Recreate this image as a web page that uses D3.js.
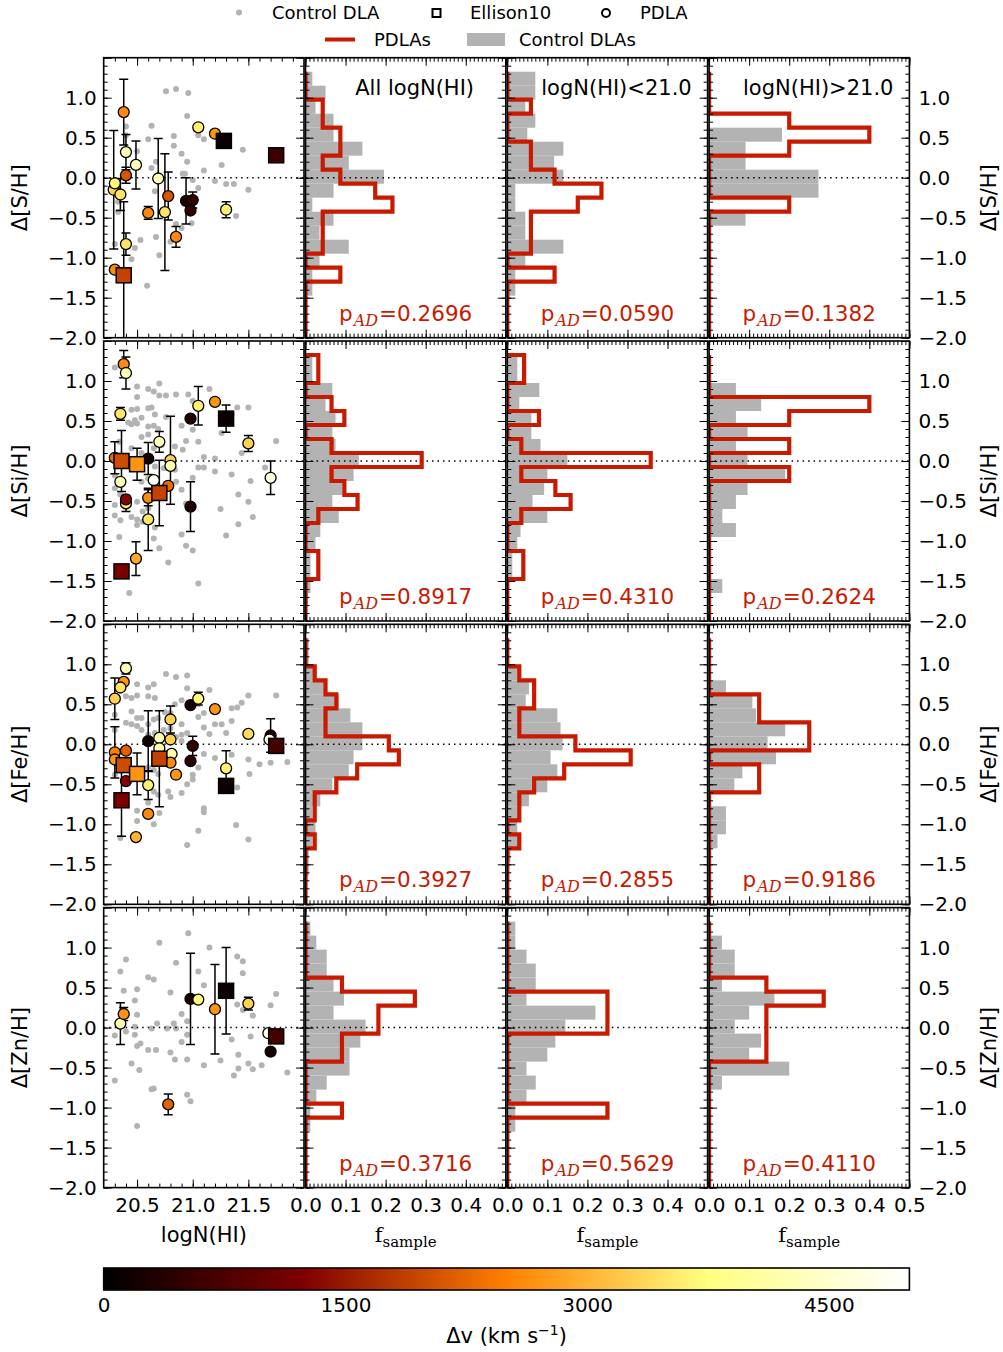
<!DOCTYPE html>
<html>
<head>
<meta charset="utf-8">
<script src="https://d3js.org/d3.v7.min.js"></script>
<style>
  body { margin: 0; background: #fff; }
  svg text { font-family: "DejaVu Sans", sans-serif; }
</style>
</head>
<body>
<script>
// ---- data ----------------------------------------------------------
// histogram bin edges (bottom to top), 19 bins
var binEdges = [-2.0, -1.825, -1.65, -1.475, -1.3, -1.125, -0.95, -0.775, -0.6, -0.425,
                -0.25, -0.075, 0.1, 0.275, 0.45, 0.625, 0.8, 0.975, 1.15, 1.325];

// fractions per bin (bottom -> top)
var sAllPdla = [0,0,0,0,0.087,0,0.043,0.043,0.043,0.217,0.174,0.087,0.043,0.087,0.087,0.043,0.043,0,0];
var sAllCtrl = [0,0,0,0.017,0.017,0.035,0.108,0.035,0.07,0.017,0.07,0.196,0.108,0.142,0.07,0.07,0.025,0.05,0.017];
var sLoPdla  = [0,0,0,0,0.118,0,0.059,0.059,0.059,0.176,0.235,0.118,0.059,0.059,0,0,0.059,0,0];
var sLoCtrl  = [0,0,0,0.02,0.02,0.045,0.14,0.045,0.045,0.02,0.02,0.14,0.117,0.14,0.05,0.07,0.045,0.07,0.07];
var sHiPdla  = [0,0,0,0,0,0,0,0,0,0.2,0,0,0,0.2,0.4,0.2,0,0,0];
var sHiCtrl  = [0,0,0,0,0,0,0,0,0.091,0,0.273,0.273,0.091,0.091,0.182,0,0,0,0];

var siAllPdla = [0,0,0,0.032,0.032,0,0,0.032,0.13,0.097,0.065,0.29,0.065,0,0.097,0.065,0,0.032,0.032];
var siAllCtrl = [0,0.006,0.0125,0.0125,0.0125,0.025,0.037,0.083,0.067,0.092,0.12,0.133,0.075,0.067,0.075,0.05,0.067,0.017,0.017];
var siLoPdla  = [0,0,0,0.04,0.04,0,0,0.035,0.158,0.12,0.035,0.358,0.035,0,0.079,0,0,0.042,0.042];
var siLoCtrl  = [0,0,0,0.0125,0.0125,0.025,0.033,0.1,0.063,0.092,0.1,0.15,0.083,0.06,0.06,0.03,0.08,0.025,0.025];
var siHiPdla  = [0,0,0,0,0,0,0,0,0,0,0.2,0,0.2,0,0.2,0.4,0,0,0];
var siHiCtrl  = [0,0,0.033,0,0,0,0.067,0.033,0.067,0.096,0.19,0.096,0.067,0.096,0.067,0.13,0.067,0,0];

var feAllPdla = [0,0,0,0,0.023,0,0.023,0.023,0.077,0.129,0.233,0.208,0.05,0.05,0.077,0.05,0.023,0,0];
var feAllCtrl = [0,0,0.008,0.008,0.017,0.025,0.017,0.037,0.067,0.108,0.12,0.142,0.142,0.112,0.083,0.046,0.02,0.008,0.008];
var feLoPdla  = [0,0,0,0,0.03,0,0.03,0.03,0.067,0.142,0.308,0.17,0.03,0.03,0.067,0.067,0.03,0,0];
var feLoCtrl  = [0,0,0,0.008,0.03,0.025,0.03,0.054,0.1,0.125,0.108,0.138,0.133,0.125,0.046,0.054,0.03,0,0];
var feHiPdla  = [0,0,0,0,0,0,0,0,0.125,0.125,0,0.25,0.25,0.125,0.125,0,0,0,0];
var feHiCtrl  = [0,0,0,0,0.021,0.042,0.042,0,0.063,0.083,0.167,0.146,0.19,0.117,0.108,0.042,0,0,0];

var znAllPdla = [0,0,0,0,0,0.091,0,0,0,0.091,0.091,0.182,0.182,0.273,0.091,0,0,0,0];
var znAllCtrl = [0,0,0,0,0.012,0.012,0.027,0.053,0.11,0.11,0.137,0.15,0.07,0.096,0.07,0.053,0.053,0.027,0.012];
var znLoPdla  = [0,0,0,0,0,0.25,0,0,0,0,0,0.25,0.25,0.25,0,0,0,0,0];
var znLoCtrl  = [0,0,0,0,0.02,0.02,0.048,0.071,0.048,0.1,0.12,0.145,0.22,0.048,0.071,0.071,0.048,0.02,0.02];
var znHiPdla  = [0,0,0,0,0,0,0,0,0,0.143,0.143,0.143,0.143,0.286,0.143,0,0,0,0];
var znHiCtrl  = [0,0,0,0,0,0,0,0.032,0.2,0.1,0.13,0.064,0.1,0.163,0.032,0.064,0.064,0.032,0];

var pS  = ["0.2696", "0.0590", "0.1382"];
var pSi = ["0.8917", "0.4310", "0.2624"];
var pFe = ["0.3927", "0.2855", "0.9186"];
var pZn = ["0.3716", "0.5629", "0.4110"];

var histTitles = ["All logN(HI)", "logN(HI)<21.0", "logN(HI)>21.0"];

// control DLAs: [logN(HI), value]
var ctrlS = [[20.76,1.08],[20.85,1.11],[20.96,1.06],[20.95,0.77],[20.63,0.65],[20.60,0.48],[20.83,0.52],
  [21.10,0.48],[21.05,0.53],[20.83,0.40],[21.45,0.35],[20.90,0.30],[20.50,0.33],[20.95,0.20],[20.67,0.20],
  [20.63,0.12],[21.26,0.16],[20.91,0.05],[20.93,0.05],[21.10,0.09],[21.00,-0.03],[20.66,-0.17],[21.20,-0.04],
  [21.05,-0.13],[21.30,-0.08],[21.37,-0.08],[21.50,-0.15],[20.33,-0.43],[20.33,-0.30],[21.39,-0.48],
  [20.85,-0.58],[20.90,-0.63],[20.99,-0.57],[20.80,-0.80],[20.67,-0.74],[20.53,-0.78],[20.48,-0.88],
  [20.30,-0.83],[20.45,-1.02],[20.70,-0.97],[20.59,-1.35],[20.40,0.64],[20.40,0.53]];

var ctrlSi = [[20.30,1.17],[20.50,0.93],[20.50,0.80],[20.60,0.90],[20.65,0.87],[20.70,0.97],[20.70,0.82],
  [20.76,0.82],[20.85,0.83],[20.96,0.83],[21.15,0.90],[21.00,0.75],[20.45,0.64],[20.50,0.65],[20.60,0.66],
  [20.63,0.67],[20.66,0.58],[20.54,0.54],[20.48,0.51],[20.50,0.47],[20.45,0.46],[20.60,0.43],[20.65,0.44],
  [20.69,0.40],[20.60,0.33],[20.54,0.30],[20.76,0.55],[20.90,0.44],[21.00,0.39],[20.94,0.25],[21.05,0.24],
  [20.91,0.14],[21.10,0.05],[21.20,0.03],[21.05,-0.08],[21.10,-0.08],[21.00,-0.21],[21.20,-0.13],
  [21.35,-0.17],[21.26,0.35],[21.35,0.58],[21.40,0.67],[21.50,0.67],[21.44,0.10],[21.52,-0.25],
  [21.41,-0.42],[21.50,-0.51],[21.54,-0.70],[21.41,-0.79],[21.75,0.25],[21.65,-0.08],[21.25,-0.60],
  [21.30,-0.93],[20.94,-0.53],[20.90,-0.36],[20.90,-0.92],[20.94,-1.06],[21.00,-1.12],[21.05,-1.53],
  [20.78,-1.27],[20.70,-1.09],[20.65,-0.97],[20.66,-0.83],[20.50,-0.80],[20.50,-0.73],[20.34,-0.95],
  [20.43,-1.65],[20.30,-0.55],[20.30,-0.68],[20.35,-0.74],[20.45,-0.70],[20.55,-0.63],[20.55,-0.76],
  [20.60,-0.59],[20.50,-0.51],[20.30,-0.18],[20.30,-0.34],[20.35,-0.42],[20.54,-0.26],[20.60,-0.22],
  [20.66,-0.07],[20.74,-0.09],[20.84,-0.11],[20.85,-0.26],[20.54,0.10],[20.65,0.16],[20.72,0.20],
  [20.84,0.18],[20.45,0.16],[20.34,0.24],[20.42,0.48]];

var ctrlFe = [[20.76,0.88],[20.85,0.84],[20.95,0.86],[20.50,0.75],[20.60,0.71],[20.65,0.75],[20.40,0.60],
  [20.45,0.58],[20.50,0.61],[20.60,0.60],[20.66,0.58],[20.84,0.50],[20.90,0.55],[20.95,0.70],[21.15,0.68],
  [21.10,0.39],[21.10,0.21],[21.05,0.50],[20.90,0.25],[20.80,0.39],[20.75,0.40],[20.69,0.33],[20.65,0.31],
  [20.60,0.25],[20.54,0.33],[20.50,0.33],[20.45,0.41],[20.40,0.27],[20.45,0.25],[20.50,0.23],[20.54,0.18],
  [20.60,0.12],[20.66,0.14],[20.74,0.18],[20.80,0.20],[20.85,0.09],[20.90,0.12],[20.95,0.14],[20.90,0.04],
  [21.05,0.34],[21.15,0.13],[21.20,0.25],[21.26,0.25],[21.30,0.14],[21.35,0.45],[21.40,0.46],[21.35,0.29],
  [21.44,0.52],[21.50,0.61],[21.75,0.61],[21.10,-0.12],[21.20,-0.17],[21.35,-0.13],[21.50,-0.19],
  [21.60,-0.25],[21.70,-0.23],[21.85,-0.22],[21.51,-0.37],[21.40,-0.54],[21.05,-0.29],[21.00,-0.38],
  [21.00,-0.44],[20.95,-0.50],[20.90,-0.61],[20.80,-0.66],[20.78,-0.59],[20.69,-0.37],[20.65,-0.32],
  [20.60,-0.29],[20.54,-0.37],[20.45,-0.33],[20.30,-0.38],[20.65,-0.59],[20.69,-0.63],[20.60,-0.73],
  [20.50,-0.83],[20.50,-0.96],[20.65,-1.00],[20.70,-0.86],[21.10,-0.80],[21.10,-0.85],[21.05,-1.08],
  [21.39,-1.01],[21.50,-1.19],[20.95,-1.26],[20.35,-1.17],[20.30,0.37],[20.30,0.18]];

var ctrlZn = [[20.96,1.18],[20.70,1.06],[21.15,1.00],[20.40,0.85],[20.85,0.81],[21.40,0.89],[21.45,0.83],
  [20.35,0.70],[21.05,0.70],[21.45,0.68],[20.60,0.63],[20.65,0.60],[21.10,0.53],[20.50,0.48],[20.38,0.46],
  [20.80,0.44],[21.75,0.42],[20.48,0.34],[21.40,0.29],[21.45,0.22],[21.54,0.15],[21.70,0.28],[20.50,0.16],
  [20.90,0.17],[20.95,0.08],[20.68,0.05],[20.48,0.01],[20.63,-0.01],[20.77,-0.01],[20.83,0.05],[20.85,-0.01],
  [20.30,-0.10],[20.40,-0.05],[20.48,-0.09],[20.95,-0.09],[21.35,-0.15],[21.52,-0.11],[20.50,-0.23],
  [20.53,-0.20],[20.60,-0.28],[20.67,-0.28],[20.90,-0.18],[20.80,-0.31],[20.84,-0.40],[20.95,-0.40],
  [21.10,-0.47],[21.25,-0.41],[21.41,-0.34],[21.50,-0.45],[21.41,-0.51],[21.54,-0.52],[21.62,-0.47],
  [21.37,-0.60],[21.85,-0.56],[20.45,-0.45],[20.52,-0.53],[20.30,-0.66],[20.63,-0.77],[20.65,-0.76],
  [20.95,-0.84],[20.98,-0.92],[20.50,-1.23]];

// PDLAs: [logN(HI), value, error, dv (km/s)]
var pdlaS = [[20.38,0.82,0.41,2600],[20.40,0.32,0.22,4300],[20.40,0.03,0.10,2100],[20.29,-0.15,0.74,3300],
  [20.30,-0.07,0,3700],[20.35,-0.21,0.20,3500],[20.49,0.16,0.30,4300],[20.40,-0.83,0.14,3500],
  [20.30,-1.15,0,2600],[20.60,-0.44,0.08,2600],[20.69,-0.01,0.50,4300],[20.75,-0.43,0.73,3500],
  [20.78,-0.23,0.30,2100],[20.85,-0.74,0.13,2600],[20.94,-0.29,0.29,300],[21.00,-0.28,0.10,500],
  [20.98,-0.41,0,500],[21.05,0.63,0,3600],[21.20,0.55,0,2700],[21.30,-0.40,0.10,3600]];
var pdlaSi = [[20.38,1.21,0.17,2600],[20.40,1.10,0.20,4300],[20.35,0.59,0.08,3500],[20.30,0.04,0.20,2300],
  [20.35,-0.26,0,4300],[20.40,-0.53,0.10,3500],[20.40,-0.48,0,1300],[20.60,0.03,0.20,200],
  [20.65,-0.24,0,4900],[20.70,0.24,0.13,4300],[20.80,0.01,0.55,3300],[20.80,-0.06,0,4200],
  [20.78,-0.31,0,2300],[20.60,-0.46,0.10,2600],[20.60,-0.73,0.39,3500],[20.49,-1.22,0.21,2900],
  [20.98,0.53,0,300],[21.05,0.69,0.24,3600],[21.20,0.74,0,2700],[20.98,-0.57,0.31,300],
  [21.50,0.22,0.10,3300],[21.70,-0.21,0.21,4700]];
var pdlaFe = [[20.40,0.95,0.07,4300],[20.38,0.78,0,2700],[20.35,0.71,0,3500],[20.30,0.57,0.26,3300],
  [20.30,-0.10,0.32,2500],[20.40,-0.08,0,2200],[20.30,-0.19,0,2700],[20.40,-0.46,0,1300],
  [20.60,0.04,0.38,200],[20.70,0.08,0,4300],[20.70,-0.05,0,4200],[20.80,0.31,0.17,3300],
  [20.80,0.06,0,3300],[20.81,-0.12,0,4200],[20.80,-0.23,0,2600],[20.85,-0.38,0,2700],
  [20.60,-0.51,0.18,3600],[20.60,-0.87,0,2600],[20.49,-1.16,0,3000],[20.98,0.49,0,200],
  [21.05,0.57,0.08,3700],[21.20,0.44,0,2700],[21.00,-0.02,0.12,500],[20.98,-0.21,0,400],
  [21.30,-0.30,0.22,3600],[21.50,0.13,0,3400],[21.70,0.11,0.21,300],[21.69,0.06,0,4700]];
var pdlaZn = [[20.35,0.05,0.26,4300],[20.38,0.17,0.08,2700],[20.98,0.36,0.57,200],[21.05,0.35,0,3700],
  [21.20,0.23,0.56,2700],[21.50,0.30,0.08,3300],[21.68,-0.07,0,4800],[21.70,-0.30,0,200],
  [20.78,-0.96,0.13,2200]];

// Ellison10: [logN(HI), value, error, dv]
var ellS  = [[21.28,0.46,0,100],[21.75,0.28,0,600],[20.38,-1.22,0.92,1900]];
var ellSi = [[20.36,0.00,0.38,2000],[20.50,-0.04,0.20,2700],[20.70,-0.40,0.41,1900],[21.30,0.53,0.17,100],[20.36,-1.38,0,1200]];
var ellFe = [[20.38,-0.26,0,2000],[20.50,-0.37,0.26,2700],[20.70,-0.18,0.60,1900],[20.36,-0.70,0.45,1200],[21.30,-0.52,0,100],[21.75,-0.02,0,700]];
var ellZn = [[21.30,0.46,0.54,100],[21.75,-0.11,0,700]];

var cbTicks = [0, 1500, 3000, 4500];

// ---- layout --------------------------------------------------------
var width = 1003, height = 1352;
var left0 = 103.7, colStep = 201.8, colW = 200.3;
var top0 = 57.7, rowStep = 283.3, rowH = 280;
var red = "#c81a00", grey = "#b3b3b3";

var rows = [
  {label: "Δ[S/H]",  ctrl: ctrlS,  pdla: pdlaS,  ell: ellS,  p: pS,  hists: [[sAllPdla, sAllCtrl], [sLoPdla, sLoCtrl], [sHiPdla, sHiCtrl]]},
  {label: "Δ[Si/H]", ctrl: ctrlSi, pdla: pdlaSi, ell: ellSi, p: pSi, hists: [[siAllPdla, siAllCtrl], [siLoPdla, siLoCtrl], [siHiPdla, siHiCtrl]]},
  {label: "Δ[Fe/H]", ctrl: ctrlFe, pdla: pdlaFe, ell: ellFe, p: pFe, hists: [[feAllPdla, feAllCtrl], [feLoPdla, feLoCtrl], [feHiPdla, feHiCtrl]]},
  {label: "Δ[Zn/H]", ctrl: ctrlZn, pdla: pdlaZn, ell: ellZn, p: pZn, hists: [[znAllPdla, znAllCtrl], [znLoPdla, znLoCtrl], [znHiPdla, znHiCtrl]]}
];

// afmhot-like colormap
function heat(t) {
  t = Math.max(0, Math.min(1, t));
  var c = v => Math.round(255 * Math.max(0, Math.min(1, v)));
  return "rgb(" + c(2 * t) + "," + c(2 * t - 0.5) + "," + c(2 * t - 1) + ")";
}
var dvScale = d3.scaleLinear().domain([0, 5000]).range([0, 1]);

var svg = d3.select("body").append("svg")
  .attr("width", width)
  .attr("height", height);
var defs = svg.append("defs");

var fmt = d3.format(".1f");
var yMajor = [-2, -1.5, -1, -0.5, 0, 0.5, 1, 1.5];
var yMinor = d3.range(-20, 16).map(i => i / 10);

function drawAxes(g, x, y, o) {
  var xr = x.range(), yr = y.range();
  function style(sel) {
    sel.select(".domain").remove();
    sel.selectAll(".tick line").attr("stroke", "#000").attr("stroke-width", 1);
    sel.selectAll(".tick text").attr("font-size", 20).attr("font-family", "DejaVu Sans").attr("fill", "#000");
  }
  // bottom
  g.append("g").attr("transform", "translate(0," + yr[0] + ")")
    .call(d3.axisBottom(x).tickValues(o.xMinor).tickSize(-4).tickFormat("")).call(style);
  g.append("g").attr("transform", "translate(0," + yr[0] + ")")
    .call(d3.axisBottom(x).tickValues(o.xMajor).tickSize(-8).tickPadding(10)
      .tickFormat(d => o.xLabels && o.xLabels.indexOf(d) >= 0 ? fmt(d) : "")).call(style);
  // top
  g.append("g").attr("transform", "translate(0," + yr[1] + ")")
    .call(d3.axisTop(x).tickValues(o.xMinor).tickSize(-4).tickFormat("")).call(style);
  g.append("g").attr("transform", "translate(0," + yr[1] + ")")
    .call(d3.axisTop(x).tickValues(o.xMajor).tickSize(-8).tickFormat("")).call(style);
  // left
  g.append("g").attr("transform", "translate(" + xr[0] + ",0)")
    .call(d3.axisLeft(y).tickValues(yMinor).tickSize(-4).tickFormat("")).call(style);
  g.append("g").attr("transform", "translate(" + xr[0] + ",0)")
    .call(d3.axisLeft(y).tickValues(yMajor).tickSize(-8).tickPadding(7)
      .tickFormat(d => o.yLeft && d < 1.4 ? fmt(d) : "")).call(style);
  // right
  g.append("g").attr("transform", "translate(" + xr[1] + ",0)")
    .call(d3.axisRight(y).tickValues(yMinor).tickSize(-4).tickFormat("")).call(style);
  g.append("g").attr("transform", "translate(" + xr[1] + ",0)")
    .call(d3.axisRight(y).tickValues(yMajor).tickSize(-8).tickPadding(9)
      .tickFormat(d => o.yRight && d < 1.4 ? fmt(d) : "")).call(style);
  // frame
  g.append("rect")
    .attr("x", xr[0]).attr("y", yr[1])
    .attr("width", xr[1] - xr[0]).attr("height", yr[0] - yr[1])
    .attr("fill", "none").attr("stroke", "#000").attr("stroke-width", 1.6);
}

function clipFor(id, x, y) {
  defs.append("clipPath").attr("id", id).append("rect")
    .attr("x", x.range()[0]).attr("y", y.range()[1])
    .attr("width", x.range()[1] - x.range()[0])
    .attr("height", y.range()[0] - y.range()[1]);
  return "url(#" + id + ")";
}

var scatterXMajor = [20.5, 21.0, 21.5];
var scatterXMinor = d3.range(203, 220).map(i => i / 10);
var histXMajor = [0, 0.1, 0.2, 0.3, 0.4, 0.5];
var histXMinor = d3.range(0, 51).map(i => i / 100);

rows.forEach(function(row, r) {
  var top = top0 + r * rowStep;
  var y = d3.scaleLinear().domain([-2, 1.5]).range([top + rowH, top]);
  var last = r === rows.length - 1;

  // ---- scatter panel
  var x = d3.scaleLinear().domain([20.2, 22.0]).range([left0, left0 + colW]);
  var g = svg.append("g");
  var plot = g.append("g").attr("clip-path", clipFor("clip" + r + "s", x, y));

  plot.selectAll("circle.ctrl")
    .data(row.ctrl)
    .enter()
    .append("circle")
    .attr("cx", d => x(d[0]))
    .attr("cy", d => y(d[1]))
    .attr("r", 3)
    .attr("fill", grey);

  plot.append("line")
    .attr("x1", x.range()[0]).attr("x2", x.range()[1])
    .attr("y1", y(0)).attr("y2", y(0))
    .attr("stroke", "#000").attr("stroke-width", 1.5)
    .attr("stroke-dasharray", "1.5,4");

  var withErr = row.pdla.concat(row.ell).filter(d => d[2] > 0);
  var eb = plot.selectAll("g.err").data(withErr).enter().append("g")
    .attr("stroke", "#000").attr("stroke-width", 1.5);
  eb.append("line")
    .attr("x1", d => x(d[0])).attr("x2", d => x(d[0]))
    .attr("y1", d => y(d[1] - d[2])).attr("y2", d => y(d[1] + d[2]));
  eb.append("line")
    .attr("x1", d => x(d[0]) - 4.5).attr("x2", d => x(d[0]) + 4.5)
    .attr("y1", d => y(d[1] - d[2])).attr("y2", d => y(d[1] - d[2]));
  eb.append("line")
    .attr("x1", d => x(d[0]) - 4.5).attr("x2", d => x(d[0]) + 4.5)
    .attr("y1", d => y(d[1] + d[2])).attr("y2", d => y(d[1] + d[2]));

  plot.selectAll("circle.pdla")
    .data(row.pdla)
    .enter()
    .append("circle")
    .attr("cx", d => x(d[0]))
    .attr("cy", d => y(d[1]))
    .attr("r", 5.5)
    .attr("fill", d => heat(dvScale(d[3])))
    .attr("stroke", "#000")
    .attr("stroke-width", 1.3);

  plot.selectAll("rect.ell")
    .data(row.ell)
    .enter()
    .append("rect")
    .attr("x", d => x(d[0]) - 7.5)
    .attr("y", d => y(d[1]) - 7.5)
    .attr("width", 15)
    .attr("height", 15)
    .attr("fill", d => heat(dvScale(d[3])))
    .attr("stroke", "#000")
    .attr("stroke-width", 1.5);

  drawAxes(g, x, y, {xMajor: scatterXMajor, xMinor: scatterXMinor,
    xLabels: last ? scatterXMajor : null, yLeft: true});

  svg.append("text")
    .attr("transform", "translate(27," + (top + rowH / 2) + ") rotate(-90)")
    .attr("text-anchor", "middle")
    .attr("font-size", 21)
    .text(row.label);
  svg.append("text")
    .attr("transform", "translate(996," + (top + rowH / 2) + ") rotate(-90)")
    .attr("text-anchor", "middle")
    .attr("font-size", 21)
    .text(row.label);

  if (last) {
    svg.append("text")
      .attr("x", (x.range()[0] + x.range()[1]) / 2)
      .attr("y", 1242)
      .attr("text-anchor", "middle")
      .attr("font-size", 21)
      .text("logN(HI)");
  }

  // ---- histogram panels
  row.hists.forEach(function(h, c) {
    var xl = left0 + (c + 1) * colStep;
    var hx = d3.scaleLinear().domain([0, 0.5]).range([xl, xl + colW]);
    var hg = svg.append("g");
    var hp = hg.append("g").attr("clip-path", clipFor("clip" + r + "h" + c, hx, y));

    hp.selectAll("rect.bar")
      .data(h[1])
      .enter()
      .append("rect")
      .attr("x", hx(0))
      .attr("y", (d, i) => y(binEdges[i + 1]))
      .attr("width", d => hx(d) - hx(0))
      .attr("height", (d, i) => y(binEdges[i]) - y(binEdges[i + 1]))
      .attr("fill", grey);

    hp.append("line")
      .attr("x1", hx.range()[0]).attr("x2", hx.range()[1])
      .attr("y1", y(0)).attr("y2", y(0))
      .attr("stroke", "#000").attr("stroke-width", 1.5)
      .attr("stroke-dasharray", "1.5,4");

    var pts = [[0, binEdges[0]]];
    h[0].forEach(function(v, i) {
      pts.push([v, binEdges[i]]);
      pts.push([v, binEdges[i + 1]]);
    });
    pts.push([0, binEdges[binEdges.length - 1]]);
    hp.append("path")
      .attr("d", d3.line().x(d => hx(d[0])).y(d => y(d[1]))(pts))
      .attr("fill", "none")
      .attr("stroke", red)
      .attr("stroke-width", 4.2)
      .attr("stroke-linejoin", "miter");

    var labs = last ? (c === 2 ? histXMajor : histXMajor.slice(0, 5)) : null;
    drawAxes(hg, hx, y, {xMajor: histXMajor, xMinor: histXMinor, xLabels: labs, yRight: c === 2});

    var cx = (hx.range()[0] + hx.range()[1]) / 2;
    if (r === 0) {
      hg.append("text")
        .attr("x", cx + 9)
        .attr("y", top + 37)
        .attr("text-anchor", "middle")
        .attr("font-size", 21)
        .text(histTitles[c]);
    }
    var pt = hg.append("text")
      .attr("x", cx)
      .attr("y", top + rowH - 17)
      .attr("text-anchor", "middle")
      .attr("font-size", 21.5)
      .attr("fill", red);
    pt.append("tspan").text("p");
    pt.append("tspan").attr("font-family", "DejaVu Serif").attr("font-style", "italic")
      .attr("font-size", 16).attr("dx", 1).attr("dy", 5).text("AD");
    pt.append("tspan").attr("dx", 1).attr("dy", -5).text("=" + row.p[c]);

    if (last) {
      var fl = svg.append("text")
        .attr("x", cx)
        .attr("y", 1242)
        .attr("text-anchor", "middle")
        .attr("font-size", 21);
      fl.append("tspan").attr("font-family", "DejaVu Serif").text("f");
      fl.append("tspan").attr("font-family", "DejaVu Serif").attr("font-size", 15).attr("dy", 5).text("sample");
    }
  });
});

// ---- colour bar
var cbX = d3.scaleLinear().domain([0, 5000]).range([left0, left0 + 3 * colStep + colW]);
var cbTop = 1268, cbH = 22;
var grad = defs.append("linearGradient").attr("id", "cbgrad");
[0, 0.25, 0.5, 0.75, 1].forEach(function(t) {
  grad.append("stop").attr("offset", t).attr("stop-color", heat(t));
});
svg.append("rect")
  .attr("x", cbX(0)).attr("y", cbTop)
  .attr("width", cbX(5000) - cbX(0)).attr("height", cbH)
  .attr("fill", "url(#cbgrad)")
  .attr("stroke", "#000").attr("stroke-width", 1.6);
var cbAxis = svg.append("g")
  .attr("transform", "translate(0," + (cbTop + cbH) + ")")
  .call(d3.axisBottom(cbX).tickValues(cbTicks).tickSize(0).tickPadding(8).tickFormat(d3.format("d")));
cbAxis.select(".domain").remove();
cbAxis.selectAll(".tick text").attr("font-size", 20).attr("font-family", "DejaVu Sans").attr("fill", "#000");

var cbl = svg.append("text")
  .attr("x", (cbX(0) + cbX(5000)) / 2)
  .attr("y", 1343)
  .attr("text-anchor", "middle")
  .attr("font-size", 21);
cbl.append("tspan").text("Δv (km s");
cbl.append("tspan").attr("font-size", 14).attr("dy", -8).text("−1");
cbl.append("tspan").attr("dy", 8).text(")");

// ---- legend
var lg = svg.append("g").attr("font-size", 18);
lg.append("circle").attr("cx", 239).attr("cy", 12.5).attr("r", 3).attr("fill", grey);
lg.append("text").attr("x", 272).attr("y", 18.5).text("Control DLA");
lg.append("rect").attr("x", 432.5).attr("y", 9).attr("width", 8).attr("height", 8)
  .attr("fill", "none").attr("stroke", "#000").attr("stroke-width", 2);
lg.append("text").attr("x", 470).attr("y", 18.5).text("Ellison10");
lg.append("circle").attr("cx", 606).attr("cy", 13).attr("r", 4)
  .attr("fill", "none").attr("stroke", "#000").attr("stroke-width", 2);
lg.append("text").attr("x", 640).attr("y", 18.5).text("PDLA");
lg.append("line").attr("x1", 325).attr("x2", 355).attr("y1", 39.5).attr("y2", 39.5)
  .attr("stroke", red).attr("stroke-width", 4);
lg.append("text").attr("x", 374).attr("y", 46).text("PDLAs");
lg.append("rect").attr("x", 467).attr("y", 33).attr("width", 38).attr("height", 13).attr("fill", grey);
lg.append("text").attr("x", 519).attr("y", 46).text("Control DLAs");
</script>
</body>
</html>
